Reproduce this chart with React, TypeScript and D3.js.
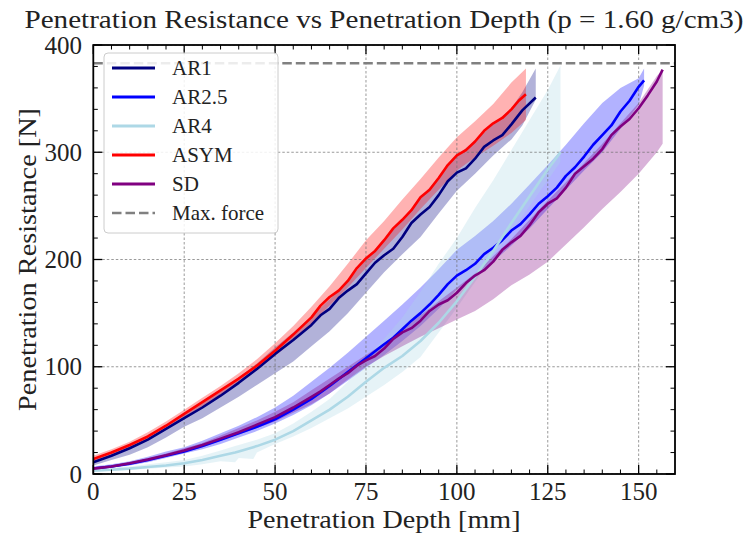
import React from 'react';
import * as d3 from 'd3';

// ---- axes / ticks ----
const xMajorTicks = [0, 25, 50, 75, 100, 125, 150];
const yMajorTicks = [0, 100, 200, 300, 400];
const xMinorTicks = d3.range(5, 160, 5).filter((v) => v % 25 !== 0);
const yMinorTicks = d3.range(20, 400, 20).filter((v) => v % 100 !== 0);
const maxForce = 383;

// ---- AR1 ----
const ar1Depth = [0, 5, 10, 15, 20, 25, 30, 35, 40, 45, 50, 55, 60, 62.5, 65, 67.5, 70, 72.5, 75, 77.5, 80, 82.5, 85, 87.5, 90, 92.5, 95, 97.5, 100, 102.5, 105, 107.5, 110, 112.5, 115, 118, 121.7];
const ar1Mean = [11, 17, 24, 32, 42, 52, 62, 73, 85, 98, 112, 125, 139, 148, 154, 164, 171, 177, 187, 197, 204, 210, 221, 234, 242, 249, 260, 273, 281, 285, 294, 305, 311, 316, 326, 339, 351];
const ar1BandDepth = [0, 5, 10, 15, 20, 25, 30, 35, 40, 45, 50, 55, 60, 65, 70, 75, 80, 85, 90, 95, 100, 105, 110, 115, 118, 121.7];
const ar1Low = [8, 13, 18, 25, 34, 44, 52, 62, 72, 83, 94, 105, 119, 133, 150, 169, 188, 205, 221, 243, 264, 280, 297, 312, 325, 349];
const ar1High = [14, 20, 27, 35, 45, 56, 66, 77, 90, 103, 118, 132, 147, 163, 180, 200, 218, 237, 257, 277, 297, 311, 326, 341, 356, 378];

// ---- AR2.5 ----
const ar25Depth = [0, 5, 10, 15, 20, 25, 30, 35, 40, 45, 50, 55, 60, 65, 70, 75, 80, 82.5, 85, 87.5, 90, 92.5, 95, 97.5, 100, 102.5, 105, 107.5, 110, 112.5, 115, 117.5, 120, 122.5, 125, 127.5, 130, 132.5, 135, 137.5, 140, 142.5, 145, 147.5, 150, 151.5];
const ar25Mean = [5, 7, 9.5, 13, 17, 21, 26, 32, 38, 44, 51, 60, 70, 82, 95, 108, 121, 127, 135, 143, 150, 158, 167, 177, 185, 190, 196, 205, 211, 218, 227, 233, 242, 252, 259, 267, 278, 286, 296, 307, 316, 325, 338, 348, 361, 367];
const ar25BandDepth = [0, 5, 10, 15, 20, 25, 30, 35, 40, 45, 50, 55, 60, 65, 70, 75, 80, 85, 90, 95, 100, 105, 110, 115, 120, 125, 130, 135, 140, 145, 150, 151.5];
const ar25Low = [4, 6, 8, 11, 15, 19, 23, 28, 34, 40, 47, 55, 64, 75, 87, 99, 111, 124, 138, 154, 172, 184, 198, 213, 229, 247, 265, 283, 300, 322, 344, 362];
const ar25High = [7, 9, 12, 16, 21, 25, 31, 38, 45, 53, 62, 73, 86, 99, 113, 128, 143, 158, 174, 191, 209, 222, 236, 252, 270, 288, 307, 327, 346, 360, 369, 378];

// ---- AR4 ----
const ar4Depth = [0, 5, 10, 15, 20, 25, 30, 35, 39, 40, 44, 45, 50, 55, 60, 65, 70, 75, 80, 85, 90, 95, 100, 105, 110, 115, 120, 125, 128.5];
const ar4Mean = [3, 4, 5, 6.5, 8, 10, 13, 17, 20, 21, 25, 26, 32, 40, 50, 60, 72, 86, 99, 110, 124, 141, 161, 184, 208, 234, 259, 284, 300];
const ar4BandDepth = ar4Depth;
const ar4Low = [2, 3, 4, 5, 6, 7, 9, 12, 11, 15, 14, 20, 28, 35, 43, 52, 61, 72, 83, 95, 109, 132, 155, 179, 203, 226, 250, 274, 291];
const ar4High = [5, 6, 7, 9, 11, 13, 17, 22, 26, 27, 31, 32, 38, 47, 58, 70, 86, 109, 126, 146, 170, 196, 220, 248, 274, 302, 330, 358, 381];

// ---- ASYM ----
const asymDepth = [0, 5, 10, 15, 20, 25, 30, 35, 40, 45, 50, 55, 60, 62.5, 65, 67.5, 70, 72.5, 75, 77.5, 80, 82.5, 85, 87.5, 90, 92.5, 95, 97.5, 100, 102.5, 105, 107.5, 110, 112.5, 115, 117, 119];
const asymMean = [14, 20, 27, 35, 45, 56, 67, 78, 89, 101, 115, 130, 146, 157, 165, 171, 180, 192, 201, 208, 218, 229, 237, 246, 258, 265, 276, 288, 297, 302, 310, 320, 327, 332, 340, 348, 354];
const asymBandDepth = [0, 5, 10, 15, 20, 25, 30, 35, 40, 45, 50, 55, 60, 65, 70, 75, 80, 85, 90, 95, 100, 105, 110, 115, 119];
const asymLow = [11, 17, 24, 32, 42, 53, 63, 74, 85, 97, 110, 124, 140, 157, 174, 192, 210, 228, 247, 265, 283, 295, 306, 318, 330];
const asymHigh = [17, 23, 30, 39, 49, 60, 71, 82, 94, 107, 122, 138, 156, 175, 196, 218, 236, 256, 275, 295, 314, 329, 345, 365, 378];

// ---- SD ----
const sdDepth = [0, 5, 10, 15, 20, 25, 30, 35, 40, 45, 50, 55, 60, 62.5, 65, 67.5, 70, 72.5, 75, 77.5, 80, 82.5, 85, 87.5, 90, 92.5, 95, 97.5, 100, 102.5, 105, 107.5, 110, 112.5, 115, 117.5, 120, 122.5, 125, 127.5, 130, 132.5, 135, 137.5, 140, 142.5, 145, 147.5, 150, 152.5, 155, 156.6];
const sdMean = [5, 7, 10, 13.5, 17.5, 22, 27, 33, 39, 46, 53, 62, 72, 77, 83, 89, 94, 101, 106, 110, 117, 126, 132, 136, 143, 152, 158, 162, 169, 178, 185, 190, 198, 209, 216, 222, 232, 244, 252, 257, 267, 280, 287, 294, 303, 316, 324, 331, 341, 353, 366, 377];
const sdBandDepth = [0, 5, 10, 15, 20, 25, 30, 35, 40, 45, 50, 55, 60, 65, 70, 75, 80, 85, 90, 95, 100, 105, 110, 115, 120, 125, 130, 135, 140, 145, 150, 155, 156.6];
const sdLow = [4, 6, 9, 12, 16, 20, 25, 31, 37, 43, 49, 57, 65, 75, 88, 100, 110, 119, 128, 136, 144, 152, 163, 176, 186, 198, 214, 230, 247, 263, 280, 300, 308];
const sdHigh = [6, 8, 11, 15, 19, 24, 29, 36, 43, 50, 58, 67, 78, 89, 100, 111, 122, 135, 148, 161, 174, 187, 203, 219, 237, 255, 272, 290, 308, 327, 346, 371, 377];

const seriesNames = ['AR1', 'AR2.5', 'AR4', 'ASYM', 'SD'];
const seriesColors = ['#000080', '#0000ff', '#add8e6', '#ff0000', '#800080'];

const FONT = "'Liberation Serif', 'DejaVu Serif', serif";

export default function App() {
  const W = 745;
  const H = 535;
  const x = d3.scaleLinear().domain([0, 160]).range([93.3, 675]);
  const y = d3.scaleLinear().domain([0, 400]).range([474, 45]);
  const [x0, x1] = x.range();
  const [y0, y1] = y.range();

  const series = [
    { depth: ar1Depth, mean: ar1Mean, bandDepth: ar1BandDepth, low: ar1Low, high: ar1High },
    { depth: ar25Depth, mean: ar25Mean, bandDepth: ar25BandDepth, low: ar25Low, high: ar25High },
    { depth: ar4Depth, mean: ar4Mean, bandDepth: ar4BandDepth, low: ar4Low, high: ar4High },
    { depth: asymDepth, mean: asymMean, bandDepth: asymBandDepth, low: asymLow, high: asymHigh },
    { depth: sdDepth, mean: sdMean, bandDepth: sdBandDepth, low: sdLow, high: sdHigh },
  ].map((s, i) => ({ ...s, name: seriesNames[i], color: seriesColors[i] }));

  const areaPath = (s: any) =>
    d3
      .area<number>()
      .x((d) => x(d))
      .y0((_, i) => y(s.low[i]))
      .y1((_, i) => y(s.high[i]))(s.bandDepth) || '';
  const linePath = (s: any) =>
    d3
      .line<number>()
      .x((d) => x(d))
      .y((_, i) => y(s.mean[i]))(s.depth) || '';

  const legendItems = [
    ...seriesNames.map((n, i) => ({ name: n, color: seriesColors[i], dash: false })),
    { name: 'Max. force', color: '#808080', dash: true },
  ];

  const textStyle = { fontFamily: FONT };

  return (
    <svg width={W} height={H} style={{ position: 'absolute', left: 0, top: 0, background: '#fff', fontFamily: FONT }}>
      <rect x={0} y={0} width={W} height={H} fill="#fff" />
      <defs>
        <clipPath id="plotclip">
          <rect x={x0} y={y1} width={x1 - x0} height={y0 - y1} />
        </clipPath>
      </defs>
      <g clipPath="url(#plotclip)">
        {series.map((s) => (
          <path key={'a' + s.name} d={areaPath(s)} fill={s.color} fillOpacity={0.3} stroke="none" />
        ))}
        {xMajorTicks.map((t) => (
          <line key={'gx' + t} x1={x(t)} x2={x(t)} y1={y0} y2={y1} stroke="#6f6f6f" strokeWidth={0.7} strokeDasharray="2.5,2" />
        ))}
        {yMajorTicks.map((t) => (
          <line key={'gy' + t} x1={x0} x2={x1} y1={y(t)} y2={y(t)} stroke="#6f6f6f" strokeWidth={0.7} strokeDasharray="2.5,2" />
        ))}
        {series.map((s) => (
          <path key={'l' + s.name} d={linePath(s)} fill="none" stroke={s.color} strokeWidth={2.6} strokeLinejoin="round" />
        ))}
        <line x1={x0} x2={x1} y1={y(maxForce)} y2={y(maxForce)} stroke="#808080" strokeWidth={2.6} strokeDasharray="9.5,4" />
      </g>

      {/* ticks */}
      {xMajorTicks.map((t) => (
        <g key={'tx' + t}>
          <line x1={x(t)} x2={x(t)} y1={y0} y2={y0 - 9} stroke="#000" strokeWidth={1.3} />
          <line x1={x(t)} x2={x(t)} y1={y1} y2={y1 + 9} stroke="#000" strokeWidth={1.3} />
          <text x={x(t)} y={500} fontSize={25} textAnchor="middle" fill="#222" style={textStyle}>{t}</text>
        </g>
      ))}
      {xMinorTicks.map((t) => (
        <g key={'mx' + t}>
          <line x1={x(t)} x2={x(t)} y1={y0} y2={y0 - 4.5} stroke="#000" strokeWidth={1} />
          <line x1={x(t)} x2={x(t)} y1={y1} y2={y1 + 4.5} stroke="#000" strokeWidth={1} />
        </g>
      ))}
      {yMajorTicks.map((t) => (
        <g key={'ty' + t}>
          <line x1={x0} x2={x0 + 9} y1={y(t)} y2={y(t)} stroke="#000" strokeWidth={1.3} />
          <line x1={x1} x2={x1 - 9} y1={y(t)} y2={y(t)} stroke="#000" strokeWidth={1.3} />
          <text x={82} y={y(t) + 8.5} fontSize={25} textAnchor="end" fill="#222" style={textStyle}>{t}</text>
        </g>
      ))}
      {yMinorTicks.map((t) => (
        <g key={'my' + t}>
          <line x1={x0} x2={x0 + 4.5} y1={y(t)} y2={y(t)} stroke="#000" strokeWidth={1} />
          <line x1={x1} x2={x1 - 4.5} y1={y(t)} y2={y(t)} stroke="#000" strokeWidth={1} />
        </g>
      ))}
      <rect x={x0} y={y1} width={x1 - x0} height={y0 - y1} fill="none" stroke="#000" strokeWidth={1.8} />

      {/* legend */}
      <g>
        <rect x={104} y={53} width={174} height={180} rx={4} fill="#fff" fillOpacity={0.85} stroke="#cccccc" strokeWidth={1} />
        {legendItems.map((it, i) => {
          const ly = 68 + i * 29;
          return (
            <g key={'lg' + it.name}>
              <line x1={112} x2={155} y1={ly} y2={ly} stroke={it.color} strokeWidth={it.dash ? 2.6 : 3} strokeDasharray={it.dash ? '9.5,4' : undefined} />
              <text x={172} y={ly + 7} fontSize={21} fill="#222" style={textStyle}>{it.name}</text>
            </g>
          );
        })}
      </g>

      {/* labels */}
      <text x={384} y={28} fontSize={25} textAnchor="middle" textLength={719} lengthAdjust="spacingAndGlyphs" fill="#222" style={textStyle}>
        Penetration Resistance vs Penetration Depth (p = 1.60 g/cm3)
      </text>
      <text x={384} y={528} fontSize={26} textAnchor="middle" textLength={273} lengthAdjust="spacingAndGlyphs" fill="#222" style={textStyle}>
        Penetration Depth [mm]
      </text>
      <text transform={`translate(36, ${(y0 + y1) / 2}) rotate(-90)`} x={0} y={0} fontSize={26} textAnchor="middle" textLength={303} lengthAdjust="spacingAndGlyphs" fill="#222" style={textStyle}>
        Penetration Resistance [N]
      </text>
    </svg>
  );
}
